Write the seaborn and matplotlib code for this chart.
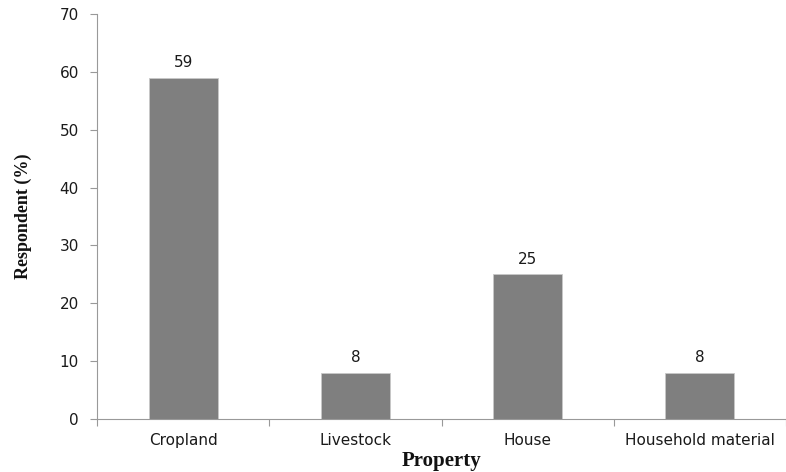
import matplotlib
matplotlib.use("Agg")
import matplotlib.pyplot as plt
import seaborn as sns
import pandas as pd

categories = ["Cropland", "Livestock", "House", "Household material"]
respondent_pct = [59, 8, 25, 8]
y_ticks = [0, 10, 20, 30, 40, 50, 60, 70]

sns.set_theme(style="white")
plt.rcParams["font.family"] = ["DejaVu Sans"]

df = pd.DataFrame({"Property": categories, "Respondent": respondent_pct})

fig = plt.figure(figsize=(7.86, 4.72), dpi=100)
ax = fig.add_axes([97 / 786, 53 / 472, 1 - 97 / 786, (419 - 14) / 472])

sns.barplot(data=df, x="Property", y="Respondent", color="#7f7f7f",
            saturation=1, width=0.4, edgecolor="#c8c8c8", linewidth=0.6, ax=ax)

for i, v in enumerate(respondent_pct):
    ax.text(i, v + 1.3, str(v), ha="center", va="bottom", fontsize=11,
            color="#1a1a1a")

ax.set_ylim(0, 70)
ax.set_xlim(-0.5, len(categories) - 0.5)
ax.set_yticks(y_ticks)
ax.tick_params(axis="y", labelsize=11, colors="#1a1a1a", length=5, width=0.8,
               direction="out", left=True, color="#999999", pad=8)
ax.tick_params(axis="x", labelsize=11, colors="#1a1a1a", length=0, pad=10)
ax.set_xticks([i - 0.5 for i in range(len(categories) + 1)], minor=True)
ax.tick_params(axis="x", which="minor", length=5, width=0.8, color="#999999",
               bottom=True, direction="out")

for side in ["top", "right"]:
    ax.spines[side].set_visible(False)
for side in ["left", "bottom"]:
    ax.spines[side].set_color("#999999")
    ax.spines[side].set_linewidth(0.8)

serif = ["Liberation Serif", "DejaVu Serif"]
ax.set_xlabel("Property", fontsize=15, fontweight="bold", family=serif,
              color="#111111", labelpad=2)
ax.set_ylabel("Respondent (%)", fontsize=13, fontweight="bold", family=serif,
              color="#111111", labelpad=20)

fig.savefig("out.png", dpi=100)
